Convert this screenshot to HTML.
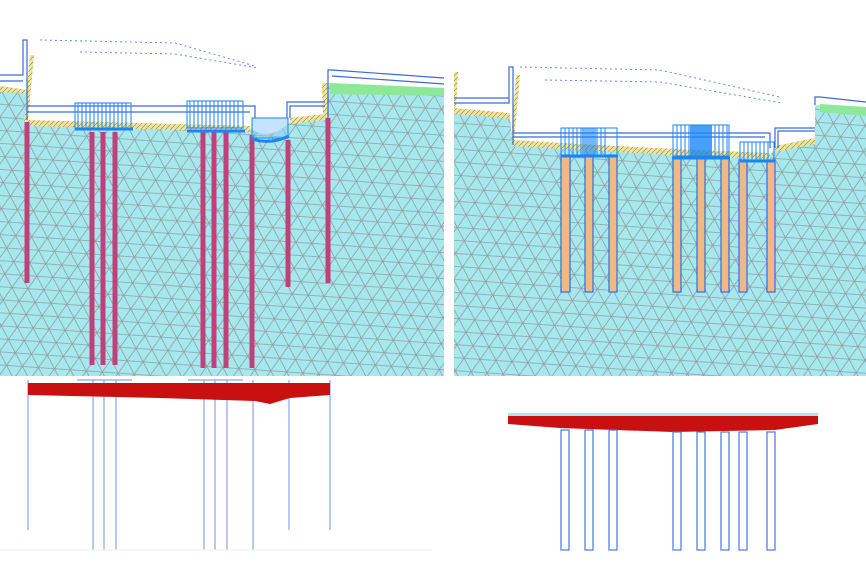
<!DOCTYPE html>
<html><head><meta charset="utf-8"><style>html,body{margin:0;padding:0;background:#fff;width:866px;height:577px;overflow:hidden}</style></head>
<body>
<svg width="866" height="577" viewBox="0 0 866 577" xmlns="http://www.w3.org/2000/svg">
<defs>
<pattern id="mesh" width="16" height="26" patternUnits="userSpaceOnUse" patternTransform="rotate(4)">
<rect x="-2" y="-2" width="20" height="30" fill="#a6e8ee"/>
<path d="M0 0 L16 0 M0 13 L16 13 M0 26 L16 26 M0 0 L8 13 L0 26 M16 0 L8 13 L16 26 M8 13 L0 0 M8 13 L16 0" stroke="#8f9fa2" stroke-width="0.8" fill="none"/>
</pattern>
<pattern id="hatch" width="5" height="5" patternUnits="userSpaceOnUse"><rect width="5" height="5" fill="#f0e49a"/><path d="M0 5 L5 0" stroke="#9a9060" stroke-width="0.7"/></pattern>
</defs>
<!-- LEFT PANEL -->
<path d="M0 88 L28 92 L28 122 L250 128 Q270 142 290 122 L325 116 L325 83 L444 88 L444 376 L0 376 Z" fill="url(#mesh)"/>
<path d="M0 86 L28 90 L28 94 L0 92Z M28 120 L250 126 L250 132 L28 126Z M290 118 L325 114 L325 120 L290 124Z" fill="url(#hatch)"/>
<path d="M330 83 L444 88 L444 96 L330 94Z" fill="#8ee89a"/>
<path d="M30 55 L34 55 L28 122 L24 122Z M322 83 L328 83 L328 118 L323 118Z" fill="url(#hatch)"/>
<g stroke="#c0407a" stroke-width="5" fill="none">
<path d="M27 122 V283 M92 132 V365 M103 132 V365 M115 132 V365 M203 132 V368 M214 132 V368 M226 132 V368 M252 135 V368 M288 140 V287 M328 118 V283"/>
</g>
<g stroke="#3a6ae0" stroke-width="1.2" fill="none">
<path d="M0 75 H23 V40 H27 V120 M0 81 H23 M27 106 H255 V118 M27 112 H250 M287 118 V102 H325 M290 118 V106 H325 M328 118 V70 H332 M332 70 L444 78 M332 76 L444 84"/>
</g>
<g stroke="#1a86f6" stroke-width="1" fill="none">
<rect x="75" y="103" width="56" height="25"/><rect x="187" y="101" width="56" height="27"/>
<path d="M78 103 V128 M82 103 V128 M86 103 V128 M90 103 V128 M94 103 V128 M98 103 V128 M102 103 V128 M106 103 V128 M110 103 V128 M114 103 V128 M118 103 V128 M122 103 V128 M126 103 V128 M190 101 V128 M194 101 V128 M198 101 V128 M202 101 V128 M206 101 V128 M210 101 V128 M214 101 V128 M218 101 V128 M222 101 V128 M226 101 V128 M230 101 V128 M234 101 V128 M238 101 V128"/>
<rect x="252" y="118" width="36" height="20" fill="#8cc8f8" fill-opacity="0.5"/>
</g>
<path d="M75 129 H133 M187 131 H245 M252 139 Q270 145 289 136" stroke="#1a86f6" stroke-width="3" fill="none"/>
<path d="M40 40 L175 43 L255 66 M80 52 L175 54 L258 68" stroke="#6a8ae8" stroke-width="1" stroke-dasharray="2 3" fill="none"/>
<!-- RIGHT PANEL -->
<path d="M454 110 L510 115 L512 142 Q640 150 770 155 L775 148 L815 140 L815 105 L866 108 L866 376 L454 376 Z" fill="url(#mesh)"/>
<path d="M454 108 L510 113 L510 119 L454 114Z M512 140 Q640 148 770 153 L770 159 Q640 154 512 146Z M775 146 L815 138 L815 144 L775 152Z" fill="url(#hatch)"/>
<path d="M820 104 L866 107 L866 116 L820 112Z" fill="#8ee89a"/>
<path d="M454 72 L458 72 L456 108 L454 108Z M516 75 L520 75 L514 140 L511 140Z" fill="url(#hatch)"/>
<g fill="#f0b888" stroke="#3a6ae0" stroke-width="1.2">
<rect x="561" y="155" width="9" height="137"/><rect x="585" y="155" width="8" height="137"/><rect x="609" y="155" width="8" height="137"/><rect x="673" y="158" width="8" height="134"/><rect x="697" y="158" width="8" height="134"/><rect x="721" y="158" width="8" height="134"/><rect x="739" y="160" width="8" height="132"/><rect x="767" y="160" width="8" height="132"/>
</g>
<g stroke="#3a6ae0" stroke-width="1.2" fill="none">
<path d="M454 103 H509 V67 H513 V145 M454 98 H509 M513 133 H770 V148 M513 137 H765 M775 148 V128 H815 M778 148 V131 H815 M815 105 V97 H820 L866 102"/>
</g>
<g stroke="#1a86f6" stroke-width="1" fill="none">
<rect x="561" y="128" width="56" height="27"/><rect x="673" y="125" width="56" height="31"/><rect x="740" y="142" width="34" height="18"/>
<path d="M565 128 V155 M569 128 V155 M573 128 V155 M577 128 V155 M581 128 V155 M597 128 V155 M601 128 V155 M605 128 V155 M677 125 V156 M681 125 V156 M685 125 V156 M689 125 V156 M715 125 V156 M719 125 V156 M723 125 V156 M727 125 V156 M744 142 V160 M748 142 V160 M752 142 V160 M756 142 V160 M760 142 V160 M764 142 V160 M768 142 V160"/>
</g>
<rect x="582" y="128" width="14" height="27" fill="#1a86f6" fill-opacity="0.6"/>
<rect x="690" y="125" width="22" height="31" fill="#1a86f6" fill-opacity="0.8"/>
<path d="M561 156 H618 M672 158 H730 M740 161 H775" stroke="#1a86f6" stroke-width="3"/>
<path d="M520 67 L660 70 L780 97 M545 80 L660 82 L782 103" stroke="#6a8ae8" stroke-width="1" stroke-dasharray="2 3" fill="none"/>
<!-- BOTTOM LEFT -->
<g stroke="#8aa4f0" stroke-width="1.2" fill="none">
<path d="M28 380 V530 M93 380 V550 M104 380 V550 M116 380 V550 M204 380 V550 M215 380 V550 M227 380 V550 M253 380 V550 M289 380 V530 M330 380 V530 M77 380 H132 M188 380 H243"/>
</g>
<path d="M0 550 H432" stroke="#eeeeee" stroke-width="1"/>
<path d="M28 383 H330 V395 L290 398 L270 404 L255 401 L160 398 L28 395 Z" fill="#c81010"/>
<!-- BOTTOM RIGHT -->
<path d="M508 413 H818 V416 H508Z" fill="#a6e8ee"/>
<path d="M508 416 H818 V424 L775 430 L673 432 L560 428 L508 424 Z" fill="#c81010"/>
<g fill="none" stroke="#4a74e6" stroke-width="1.2">
<rect x="561" y="430" width="8" height="120"/><rect x="585" y="430" width="8" height="120"/><rect x="609" y="430" width="8" height="120"/><rect x="673" y="432" width="8" height="118"/><rect x="697" y="432" width="8" height="118"/><rect x="721" y="432" width="8" height="118"/><rect x="739" y="432" width="8" height="118"/><rect x="767" y="432" width="8" height="118"/>
</g>
</svg>
</body></html>
